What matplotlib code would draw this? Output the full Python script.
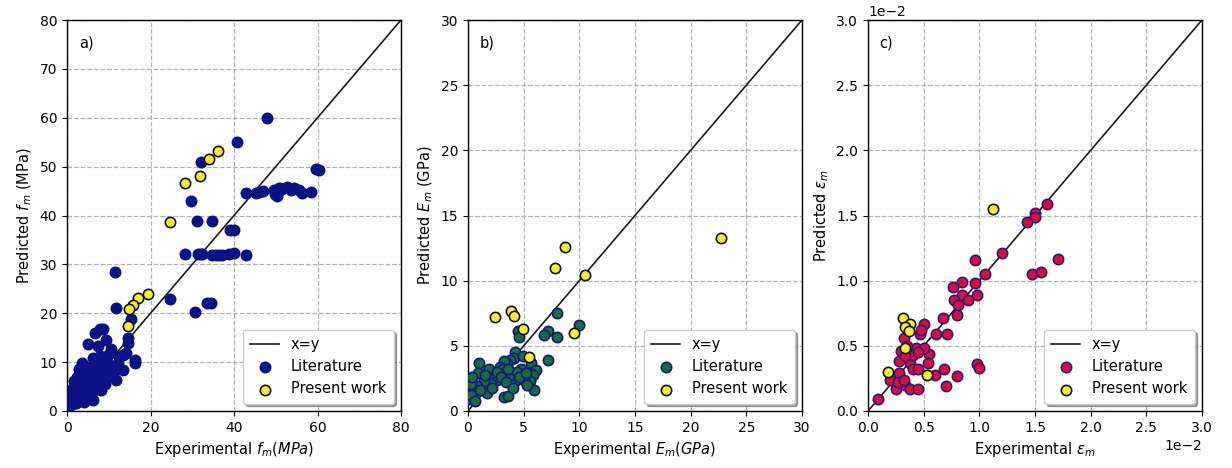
import matplotlib
matplotlib.use("Agg")
import matplotlib.pyplot as plt
import numpy as np

# ---- a) compressive strength f_m (MPa) ----
fm_lit_exp = [48, 40.8, 32.2, 29.6, 59.6, 60.3,
              42.8, 45.2, 46, 47, 49.6, 49.8, 50.4, 50.8, 51.6, 52.8, 53.6, 54.4, 55.6, 56.4, 58.4, 50.4,
              31.2, 34.8, 39, 40,
              28.2, 31.4, 32, 32.4, 34.8, 35.6, 36.4, 37.2, 38.8, 40, 42.8,
              11.6, 24.6, 11.8, 33.6, 34.4, 30.6, 15.4,
              7.8, 8.6, 6.8, 9.4, 14.5, 14.5, 5, 7.4, 10.5, 9.8, 14.1, 13.3, 12.5, 16.4, 16.3, 6.2, 7.8,
              3.5, 5.8, 7, 8.6, 10.2, 13.3, 10.9, 9.4, 11.7, 7.8, 6.2, 4.6, 3.1, 2.3, 1.5, 1.1, 0.7, 1.8,
              3.1, 4.3, 5.4, 7, 5.8, 4, 2.2, 2.8, 3.8, 4.8, 5.5, 2.5, 6.5, 8.2, 6.2, 9, 3.5, 2, 1.2, 0.9,
              4.5, 6.8, 3.2, 2.8, 4.2, 1.6, 8.8, 11.5, 12.2]
fm_lit_pred = [60, 55, 50.9, 43, 49.6, 49.4,
               44.6, 44.7, 44.8, 45, 45.2, 44.3, 44.6, 45.6, 45.4, 45.8, 45.2, 45.6, 45.3, 44.6, 44.8, 44.0,
               38.9, 38.9, 37, 37,
               32.1, 32.1, 32.2, 32.1, 32, 32, 32, 32, 32.2, 32.3, 32,
               28.4, 22.9, 21.1, 22, 22, 20.2, 18.8,
               16.7, 16.8, 16.0, 14.6, 15.0, 13.9, 13.8, 13.2, 12.6, 11.5, 11.9, 11.5, 11.0, 10.5, 9.8, 10.8, 11.2,
               9.8, 9.1, 9.5, 8.8, 9.5, 8.4, 7.7, 7.0, 6.3, 6.7, 6.0, 8.2, 7.2, 5.8, 4.8, 3.4, 2.2, 2.2,
               2.9, 3.9, 4.9, 4.6, 3.2, 1.9, 1.6, 4.2, 5.2, 6.6, 7.6, 7.0, 8.0, 4.3, 2.2, 5.5, 3.5, 3, 1.8, 1.2,
               5.8, 5.0, 6.3, 8.5, 9.0, 6.2, 10.2, 8.3, 9.6]
fm_new_exp = [36.2, 34, 31.8, 28.2, 24.6, 19.4, 17, 15.8, 14.8, 14.7]
fm_new_pred = [53.1, 51.5, 48.1, 46.6, 38.6, 23.9, 23.2, 21.7, 20.8, 17.4]

# ---- b) elastic modulus E_m (GPa) ----
em_lit_exp = [8, 10, 7.2, 6.8, 8, 4.5, 4.55, 7.2, 5.7, 6.15, 5.85, 5.6, 5.9, 5.0, 4.2, 3.8, 3.2, 3.6, 1.7, 1.0,
              4.2, 4.1, 3.8, 3.5, 3.2, 2.9, 3.1,
              0.9, 1.8, 2.3, 2.6, 2.1, 1.4, 0.8, 0.5, 0.2, 0.3, 1.1, 0.15, 0.3, 1.9, 2.6, 4.8, 4.4, 3.0,
              3.4, 4.0, 5.3, 2.2, 4.6, 1.5, 0.6, 0.4, 3.6, 4.9, 5.2]
em_lit_pred = [7.5, 6.6, 6.15, 5.8, 5.65, 6.1, 5.7, 3.9, 3.7, 3.15, 2.8, 2.3, 1.6, 2.4, 2.3, 2.8, 1.1, 1.15, 1.35, 3.7,
               4.5, 4.1, 3.9, 3.7, 3.8, 3.4, 3.2,
               2.9, 3.1, 2.7, 2.4, 2.1, 2.3, 1.9, 1.5, 0.9, 1.2, 1.6, 2.4, 2.1, 3.2, 3.0, 3.2, 3.0, 2.6,
               2.2, 1.8, 2.0, 1.8, 2.6, 2.8, 0.8, 2.6, 3.2, 4.2, 2.9]
em_new_exp = [22.7, 8.74, 7.8, 10.5, 3.83, 4.16, 2.4, 4.9, 9.5, 5.45]
em_new_pred = [13.3, 12.6, 11.0, 10.4, 7.7, 7.27, 7.2, 6.3, 5.97, 4.13]

# ---- c) peak strain eps_m ----
eps_lit_exp = [0.0161, 0.0150, 0.0150, 0.0143, 0.0120, 0.0096, 0.0171, 0.0147, 0.0155, 0.0105, 0.0096, 0.0084,
               0.0076, 0.0084, 0.0098, 0.0077, 0.0090, 0.0081, 0.0080, 0.0067, 0.0050, 0.0071, 0.0061, 0.0047,
               0.0048, 0.0032, 0.0055, 0.0054, 0.0043, 0.0050, 0.0036, 0.0030, 0.00975, 0.0100, 0.0028, 0.0038,
               0.0040, 0.0045, 0.0060, 0.0068, 0.0080, 0.0070, 0.00255, 0.0033, 0.0038, 0.0045, 0.0020, 0.0028,
               0.0027, 0.0032, 0.0009, 0.0035, 0.0040, 0.0045, 0.0033]
eps_lit_pred = [0.0159, 0.0152, 0.0149, 0.0145, 0.0121, 0.0116, 0.0117, 0.0105, 0.0107, 0.0105, 0.0098, 0.0099,
                0.0095, 0.0089, 0.0089, 0.0085, 0.0085, 0.0081, 0.0074, 0.0071, 0.0067, 0.0059, 0.0059, 0.0059,
                0.0062, 0.0056, 0.0044, 0.0037, 0.0048, 0.0048, 0.0046, 0.0046, 0.0036, 0.0033, 0.0038, 0.0037,
                0.0032, 0.0032, 0.00275, 0.0032, 0.0027, 0.0019, 0.0017, 0.0020, 0.0017, 0.0017, 0.0024, 0.0029,
                0.0022, 0.0024, 0.00094, 0.0050, 0.0043, 0.0045, 0.0042]
eps_new_exp = [0.0112, 0.00315, 0.00374, 0.0033, 0.0037, 0.0033, 0.0018, 0.0053]
eps_new_pred = [0.0155, 0.00714, 0.0067, 0.00645, 0.0061, 0.00485, 0.0030, 0.0028]

fig = plt.figure(figsize=(12.32, 4.68), dpi=100)
W, H = 1232, 468
boxes = [(67, 20, 334, 391), (468, 20, 334, 391), (868, 20, 334, 391)]
axes = [fig.add_axes([l / W, (H - t - h) / H, w / W, h / H]) for (l, t, w, h) in boxes]

yellow = "#f4ee3a"
panels = [
    dict(lx=fm_lit_exp, ly=fm_lit_pred, nx=fm_new_exp, ny=fm_new_pred, lim=80,
         ticks=np.arange(0, 81, 20), yticks=np.arange(0, 81, 10),
         fc="#0c1283", ec="#0c1283", tag="a)",
         xlabel=r"Experimental $f_m(MPa)$", ylabel=r"Predicted $f_m$ (MPa)"),
    dict(lx=em_lit_exp, ly=em_lit_pred, nx=em_new_exp, ny=em_new_pred, lim=30,
         ticks=np.arange(0, 31, 5), yticks=np.arange(0, 31, 5),
         fc="#1b6b3c", ec="#101a7a", tag="b)",
         xlabel=r"Experimental $E_m(GPa)$", ylabel=r"Predicted $E_m$ (GPa)"),
    dict(lx=eps_lit_exp, ly=eps_lit_pred, nx=eps_new_exp, ny=eps_new_pred, lim=0.03,
         ticks=np.linspace(0, 0.03, 7), yticks=np.linspace(0, 0.03, 7),
         fc="#cf1240", ec="#3a1470", tag="c)",
         xlabel=r"Experimental $\varepsilon_m$", ylabel=r"Predicted $\varepsilon_m$"),
]

for ax, p in zip(axes, panels):
    lim = p["lim"]
    ax.grid(True, linestyle="--", color="#b0b0b0", linewidth=0.9, zorder=0)
    ax.set_axisbelow(True)
    ax.plot([0, lim], [0, lim], color="#1a1a1a", linewidth=1.2, label="x=y", zorder=2)
    ax.scatter(p["lx"], p["ly"], s=55, color=p["fc"], edgecolors=p["ec"], linewidths=1.2,
               label="Literature", zorder=3)
    ax.scatter(p["nx"], p["ny"], s=55, color=yellow, edgecolors="#111111", linewidths=1.2,
               label="Present work", zorder=4)
    ax.set_xlim(0, lim)
    ax.set_ylim(0, lim)
    ax.set_xticks(p["ticks"])
    ax.set_yticks(p["yticks"])
    ax.set_xlabel(p["xlabel"], fontsize=10.5)
    ax.set_ylabel(p["ylabel"], fontsize=10.5)
    ax.tick_params(labelsize=10)
    ax.text(0.035, 0.94, p["tag"], transform=ax.transAxes, fontsize=10.5, va="center")
    ax.legend(loc="lower right", fontsize=10.5, frameon=True, fancybox=True, shadow=True,
              framealpha=1.0, borderpad=0.5, labelspacing=0.5, handlelength=2.0)
    for sp in ax.spines.values():
        sp.set_linewidth(1.0)

axes[2].ticklabel_format(style="sci", axis="both", scilimits=(-2, -2))

fig.savefig("out.png", dpi=100)
